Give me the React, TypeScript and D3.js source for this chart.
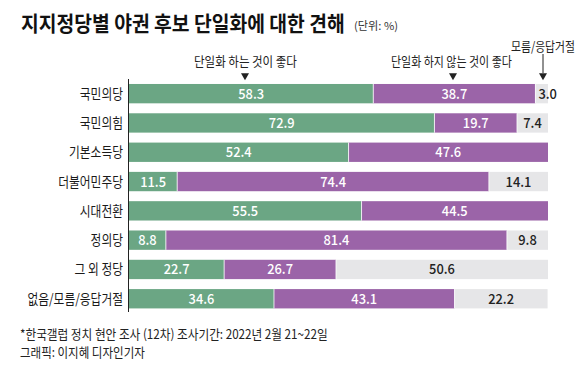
import React from "react";
import * as d3 from "d3";

const categories = ["국민의당", "국민의힘", "기본소득당", "더불어민주당", "시대전환", "정의당", "그 외 정당", "없음/모름/응답거절"];
const favor = [58.3, 72.9, 52.4, 11.5, 55.5, 8.8, 22.7, 34.6];
const oppose = [38.7, 19.7, 47.6, 74.4, 44.5, 81.4, 26.7, 43.1];
const unknown = [3.0, 7.4, 0, 14.1, 0, 9.8, 50.6, 22.2];
const seriesNames = ["단일화 하는 것이 좋다", "단일화 하지 않는 것이 좋다", "모름/응답거절"];
const colors = ["#6ba684", "#9b64a8", "#e6e6e8"];
const labelColors = ["#ffffff", "#ffffff", "#222222"];

const W = 580;
const H = 377;
const FONT = "'Noto Sans CJK KR', 'Noto Sans', sans-serif";

let ctx: CanvasRenderingContext2D | null = null;
function measure(text: string, size: number, weight: number): number {
  if (!ctx) ctx = document.createElement("canvas").getContext("2d");
  if (!ctx) return text.length * size;
  ctx.font = `${weight} ${size}px ${FONT}`;
  return ctx.measureText(text).width;
}

function FitText(props: { x: number; y: number; width: number; size: number; weight?: number; fill?: string; children: string }) {
  const w = props.weight ?? 400;
  const nat = measure(props.children, props.size, w);
  const s = nat > 0 ? props.width / nat : 1;
  return (
    <g transform={`translate(${props.x},${props.y}) scale(${s},1)`}>
      <text x={0} y={0} fontSize={props.size} fontWeight={w} fill={props.fill ?? "#222"}>{props.children}</text>
    </g>
  );
}

export default function App() {
  const x = d3.scaleLinear().domain([0, 100]).range([129, 548]);
  const y = d3.scaleBand<string>().domain(categories).range([79, 313.4]).paddingInner(0.34).paddingOuter(0.17);
  const stack = d3.stack<number>().keys(["0", "1", "2"]).value((i, k) => [favor, oppose, unknown][+k][i]);
  const series = stack(categories.map((_, i) => i));
  const tri = d3.symbol().type(d3.symbolTriangle).size(28)() as string;

  return (
    <svg width={W} height={H} style={{ position: "absolute", left: 0, top: 0, background: "#fff" }} fontFamily={FONT}>
      <rect width={W} height={H} fill="#fff" />
      <FitText x={21} y={31} width={324} size={21} weight={700} fill="#111">지지정당별 야권 후보 단일화에 대한 견해</FitText>
      <FitText x={354} y={30} width={44} size={11} fill="#333">(단위: %)</FitText>

      {/* legend */}
      <FitText x={194} y={66} width={103} size={13}>{seriesNames[0]}</FitText>
      <path d={tri} transform="translate(245,75.5) rotate(180)" fill="#222" />
      <FitText x={391} y={66} width={121} size={13}>{seriesNames[1]}</FitText>
      <path d={tri} transform="translate(453,75.5) rotate(180)" fill="#222" />
      <FitText x={511} y={51} width={64} size={13}>{seriesNames[2]}</FitText>
      <line x1={543} x2={543} y1={54} y2={73} stroke="#222" strokeWidth={1} />
      <path d={tri} transform="translate(543,75.5) rotate(180)" fill="#222" />

      {/* bars */}
      {series.map((s, si) => (
        <g key={si}>
          {s.map((d, i) => {
            const v = d[1] - d[0];
            if (v <= 0) return null;
            const x0 = x(d[0]);
            const x1 = x(d[1]);
            const yy = y(categories[i])!;
            const bw = y.bandwidth();
            const wdt = x1 - x0;
            const small = wdt < 22;
            const tx = small ? x0 + 3 : (x0 + x1) / 2;
            return (
              <g key={i}>
                <rect x={x0} y={yy} width={wdt} height={bw} fill={colors[si]} />
                {si > 0 && <line x1={x0} x2={x0} y1={yy} y2={yy + bw} stroke="#fff" strokeWidth={1} strokeOpacity={0.8} />}
                <g transform={`translate(${tx},${yy + bw / 2 + 5}) scale(0.92,1)`}>
                  <text x={0} y={0} textAnchor={small ? "start" : "middle"} fontSize={14} fontWeight={500} fill={labelColors[si]}>
                    {v.toFixed(1)}
                  </text>
                </g>
              </g>
            );
          })}
        </g>
      ))}

      {/* category labels */}
      {categories.map((c) => (
        <g key={c} transform={`translate(123,${y(c)! + y.bandwidth() / 2 + 5}) scale(0.84,1)`}>
          <text x={0} y={0} textAnchor="end" fontSize={14} fill="#1a1a1a">{c}</text>
        </g>
      ))}
      <line x1={128.5} x2={128.5} y1={79} y2={312} stroke="#222" strokeWidth={1} />

      {/* footnote */}
      <FitText x={20} y={339} width={308} size={13}>*한국갤럽 정치 현안 조사 (12차) 조사기간: 2022년 2월 21~22일</FitText>
      <FitText x={20} y={357} width={125} size={13}>그래픽: 이지혜 디자인기자</FitText>
    </svg>
  );
}
